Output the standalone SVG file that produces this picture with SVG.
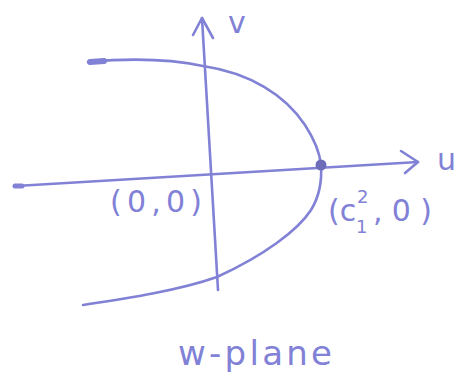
<svg xmlns="http://www.w3.org/2000/svg" width="462" height="387" viewBox="0 0 462 387">
<style>
.ink{fill:none;stroke:#8181d6;stroke-width:2.6;stroke-linecap:round;stroke-linejoin:round}
.lbl{font-family:"DejaVu Sans","Liberation Sans",sans-serif;fill:#8181d6;font-size:30px}
</style>
<rect width="462" height="387" fill="#ffffff"/>
<g id="connectors">
  <path id="u-axis" class="ink" d="M16,186 L418,162"/>
  <path class="ink" d="M401,151 L418,162 L405,173"/>
  <path id="v-axis" class="ink" d="M218,290 L202,18"/>
  <path class="ink" d="M193,35 L202,18 L213,38"/>
  <path id="curve" class="ink" d="M88,62 C130,58 170,59 203,66 C250,73 285,95 305,125 C316,142 320,155 321,165 C322,180 319,197 311,210 C298,230 265,255 217,277 C180,290 130,298 83,305"/>
  <path class="ink" style="stroke-width:6" d="M90,62 L104,61"/>
  <path class="ink" style="stroke-width:5" d="M15,186 L22,186"/>
</g>
<g id="point-c">
  <circle cx="321" cy="165" r="5.5" fill="#6c6cb8"/>
</g>
<g id="label-v"><text class="lbl" x="228" y="33">v</text></g>
<g id="label-u"><text class="lbl" x="437" y="170">u</text></g>
<g id="label-origin"><text class="lbl" x="110" y="212" textLength="92" lengthAdjust="spacing">(0,0)</text></g>
<g id="label-c">
  <text class="lbl" x="328" y="221">(c</text>
  <text class="lbl" x="356" y="233" style="font-size:18px">1</text>
  <text class="lbl" x="357" y="203" style="font-size:18px">2</text>
  <text class="lbl" x="373" y="221" textLength="59" lengthAdjust="spacing">,0)</text>
</g>
<g id="label-plane"><text class="lbl" x="178" y="365" style="font-size:34px" textLength="154" lengthAdjust="spacing">w-plane</text></g>
</svg>
